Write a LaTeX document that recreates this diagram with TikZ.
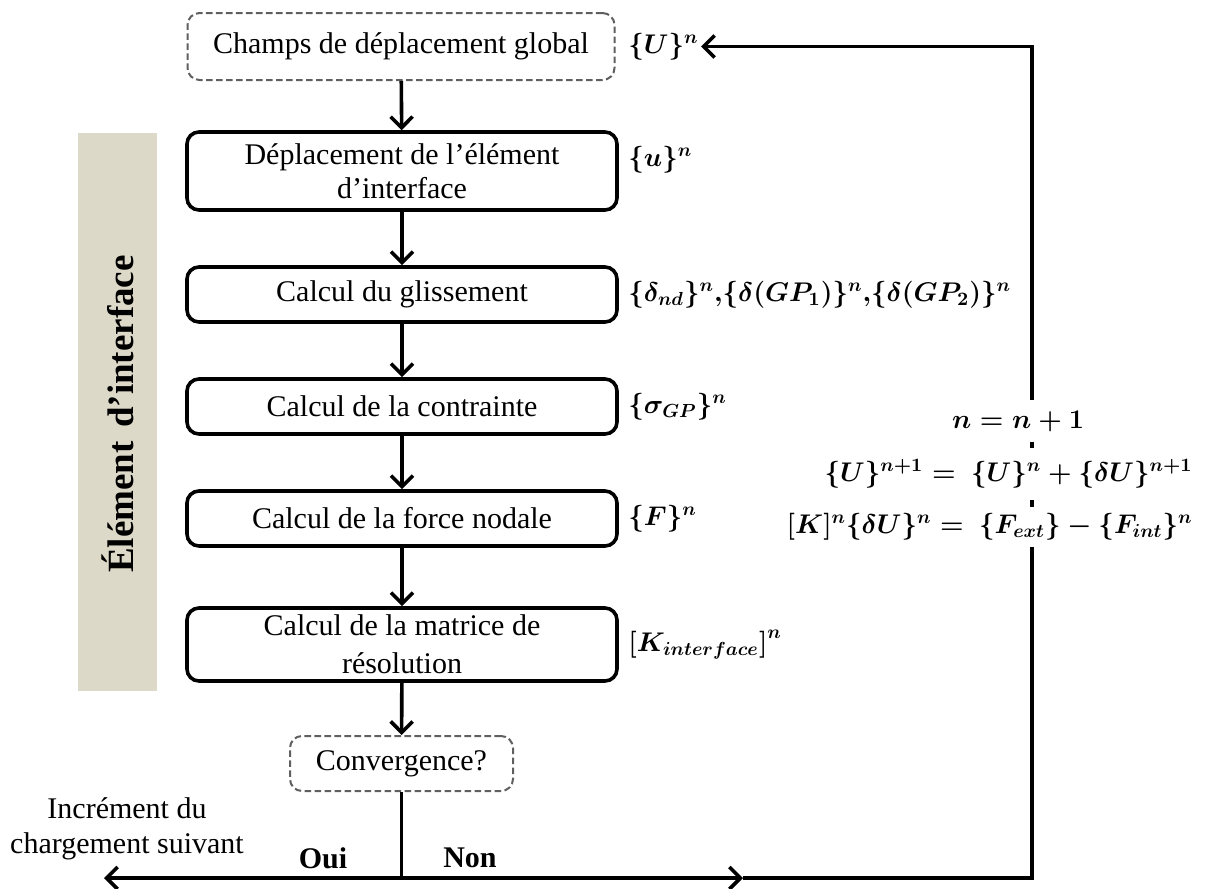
\RequirePackage{fix-cm}
\documentclass[tikz,border=0pt]{standalone}
\usepackage{fontspec}
\setmainfont{Liberation Serif}
\usetikzlibrary{arrows.meta}
\definecolor{bandcol}{RGB}{221,217,200}
\definecolor{dashgray}{RGB}{95,95,95}
\begin{document}
\begin{tikzpicture}[x=0.5pt,y=-0.5pt,
  txt/.style={font=\fontsize{15}{17}\selectfont},
  box/.style={txt, draw, line width=1.8pt, rounded corners=6pt, minimum width=215pt, align=center, inner sep=0pt},
  dbox/.style={txt, draw=dashgray, line width=1pt, dash pattern=on 3.3pt off 1.7pt, rounded corners=6pt, align=center, inner sep=0pt},
  arr/.style={line width=1.8pt, -{Straight Barb[length=5.5pt,width=11pt]}},
  lab/.style={anchor=west, font=\fontsize{13.5}{16}\selectfont\boldmath, inner sep=0pt},
  eqn/.style={fill=white, inner xsep=2pt, inner ysep=0pt, font=\fontsize{13.5}{16}\selectfont\boldmath}]
\useasboundingbox (0,0) rectangle (1205,889);
% side band
\fill[bandcol] (78,133) rectangle (157,691);
\node[rotate=90, font=\fontsize{18.5}{20}\selectfont\bfseries, inner sep=0pt] (bandtxt) at (118,414) {Élément\hspace{0.36em}d’interface};
% boxes
\node[dbox, minimum width=213.5pt, minimum height=33.5pt] (top) at (401,46.5) {Champs de déplacement global};
\node[box, minimum height=39pt] (b2) at (402,171) {Déplacement de l’élément\\d’interface};
\node[box, minimum height=27.5pt] (b3) at (402,294.5) {Calcul du glissement};
\node[box, minimum height=27.5pt] (b4) at (402,406.5) {Calcul de la contrainte};
\node[box, minimum height=27.5pt] (b5) at (402,518.5) {Calcul de la force nodale};
\node[box, minimum height=36.5pt, font=\fontsize{15}{19}\selectfont] (b6) at (402,644.5) {Calcul de la matrice de\\résolution};
\node[dbox, minimum width=111.5pt, minimum height=27.5pt] (conv) at (401.5,763.5) {Convergence?};
% labels
\node[lab] (lU) at (628,46.5) {$\{U\}^{n}$};
\node[lab] (lu) at (628,160) {$\{u\}^{n}$};
\node[lab] (ld) at (628,294.5) {$\{\delta_{nd}\}^{n}{,}\{\delta(GP_{1})\}^{n}{,}\{\delta(GP_{2})\}^{n}$};
\node[lab] (ls) at (628,406.5) {$\{\sigma_{GP}\}^{n}$};
\node[lab] (lF) at (628,518.5) {$\{F\}^{n}$};
\node[lab] (lK) at (628,645) {$\bigl[K_{interface}\bigr]^{n}$};
% flow arrows
\draw[arr] (top) -- (b2);
\draw[arr] (b2) -- (b3);
\draw[arr] (b3) -- (b4);
\draw[arr] (b4) -- (b5);
\draw[arr] (b5) -- (b6);
\draw[arr] (b6) -- (conv);
% bottom branching
\coordinate (j) at (401.5,878);
\coordinate (left) at (104,878);
\coordinate (mid) at (743,878);
\coordinate (c1) at (1032,878);
\coordinate (c2) at (1032,46.5);
\draw[line width=1.8pt] (conv) -- (j);
\draw[arr] (j) -- (left);
\draw[arr] (j) -- (mid);
\draw[arr] (mid) -- (c1) -- (c2) -- ([xshift=1pt]lU.east);
% equations
\node[eqn, minimum height=21pt] (e1) at (1018,421) {$n=n+1$};
\node[eqn, anchor=east, minimum height=26pt] (e2) at (1197,474) {$\{U\}^{n+1}=\ \{U\}^{n}+\{\delta U\}^{n+1}$};
\node[eqn, anchor=east, minimum height=20pt] (e3) at (1197,527) {$[K]^{n}\{\delta U\}^{n}=\ \{F_{ext}\}-\{F_{int}\}^{n}$};
% bottom texts
\node[align=center, inner sep=0pt, font=\fontsize{15}{17.5}\selectfont] (inc) at (127,829) {Incrément du\\chargement suivant};
\node[inner sep=0pt, font=\fontsize{15}{18}\selectfont\bfseries] (oui) at (323,858) {Oui};
\node[inner sep=0pt, font=\fontsize{15}{18}\selectfont\bfseries] (non) at (470,858) {Non};
\end{tikzpicture}
\end{document}
